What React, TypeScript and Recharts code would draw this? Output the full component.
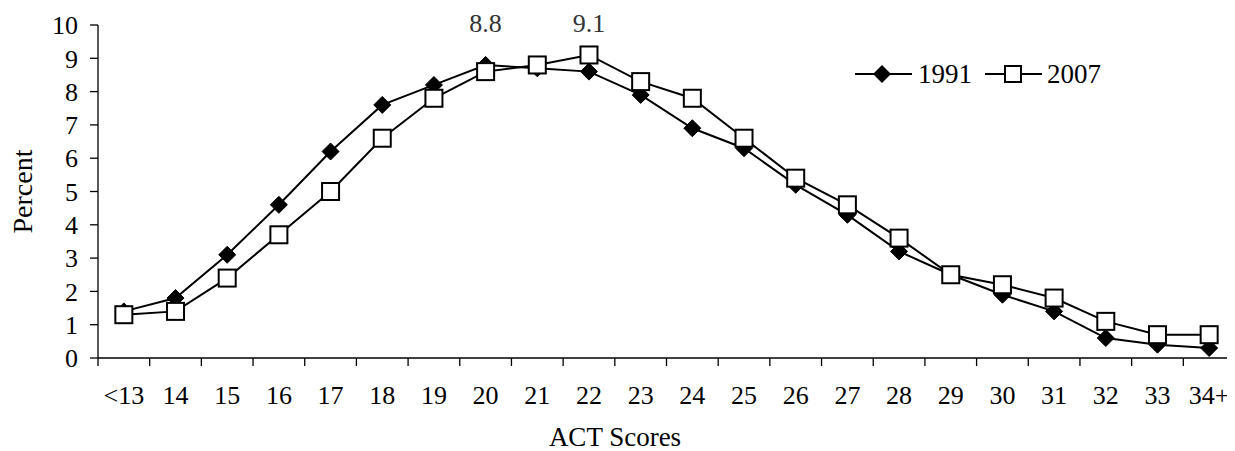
import React from 'react';
import { LineChart, Line, XAxis, YAxis, ReferenceDot, Legend, Label } from 'recharts';

const categories = ['<13', '14', '15', '16', '17', '18', '19', '20', '21', '22', '23', '24', '25', '26', '27', '28', '29', '30', '31', '32', '33', '34+'];
const values1991 = [1.4, 1.8, 3.1, 4.6, 6.2, 7.6, 8.2, 8.8, 8.7, 8.6, 7.9, 6.9, 6.3, 5.2, 4.3, 3.2, 2.5, 1.9, 1.4, 0.6, 0.4, 0.3];
const values2007 = [1.3, 1.4, 2.4, 3.7, 5.0, 6.6, 7.8, 8.6, 8.8, 9.1, 8.3, 7.8, 6.6, 5.4, 4.6, 3.6, 2.5, 2.2, 1.8, 1.1, 0.7, 0.7];
const yTicks = [0, 1, 2, 3, 4, 5, 6, 7, 8, 9, 10];
const annotations = [
  { category: '20', text: '8.8' },
  { category: '22', text: '9.1' },
];
const seriesNames = ['1991', '2007'];

const FONT = '"Liberation Serif", "Times New Roman", serif';
const TICK_FS = 26;

const data = categories.map((c, i) => ({
  pos: i + 0.5,
  cat: c,
  v1991: values1991[i],
  v2007: values2007[i],
}));

const xTicks: number[] = [];
for (let k = 0; k <= categories.length * 2; k++) xTicks.push(k / 2);

const XTick = (props: any) => {
  const { x, y, payload } = props;
  const v = payload.value;
  if (Number.isInteger(v)) {
    return <line x1={x} x2={x} y1={y} y2={y + 8} stroke="#000" strokeWidth={1.3} />;
  }
  const label = categories[Math.floor(v)];
  return (
    <text x={x} y={y + 46} textAnchor="middle" fontSize={TICK_FS} fontFamily={FONT} fill="#000">
      {label}
    </text>
  );
};

const Diamond = (props: any) => {
  const { cx, cy } = props;
  if (cx == null || cy == null) return null;
  const r = 8.5;
  return (
    <polygon
      points={`${cx},${cy - r} ${cx + r},${cy} ${cx},${cy + r} ${cx - r},${cy}`}
      fill="#000"
      stroke="#000"
      strokeWidth={1}
    />
  );
};

const Square = (props: any) => {
  const { cx, cy } = props;
  if (cx == null || cy == null) return null;
  const h = 8.5;
  return <rect x={cx - h} y={cy - h} width={2 * h} height={2 * h} fill="#fff" stroke="#000" strokeWidth={2} />;
};

const renderLegend = () => (
  <svg width={270} height={30} style={{ display: 'block' }}>
    <line x1={2} x2={59} y1={15} y2={15} stroke="#000" strokeWidth={2} />
    <polygon points="29,6 38,15 29,24 20,15" fill="#000" />
    <text x={65} y={24} fontSize={27} fontFamily={FONT} fill="#000">{seriesNames[0]}</text>
    <line x1={132} x2={189} y1={15} y2={15} stroke="#000" strokeWidth={2} />
    <rect x={152} y={7} width={16} height={16} fill="#fff" stroke="#000" strokeWidth={2} />
    <text x={194} y={24} fontSize={27} fontFamily={FONT} fill="#000">{seriesNames[1]}</text>
  </svg>
);

const PercentLabel = (props: any) => {
  const vb = props.viewBox || {};
  const cx = 14;
  const cy = (vb.y ?? 0) + (vb.height ?? 0) / 2;
  return (
    <text x={cx} y={cy} transform={`rotate(-90 ${cx} ${cy})`} textAnchor="middle" dominantBaseline="central" fontSize={28} fontFamily={FONT} fill="#000">
      Percent
    </text>
  );
};

const ActLabel = (props: any) => {
  const vb = props.viewBox || {};
  const x = 607;
  const y = (vb.y ?? 0) + 88;
  return (
    <text x={x} y={y} textAnchor="middle" fontSize={27} fontFamily={FONT} fill="#000">
      ACT Scores
    </text>
  );
};

export default function App() {
  return (
    <div style={{ width: 1227, height: 443, overflow: 'hidden', position: 'relative', background: '#fff' }}>
      <LineChart width={1227} height={443} data={data} margin={{ top: 17, right: 0, left: 0, bottom: 0 }}>
        <XAxis
          dataKey="pos"
          type="number"
          domain={[0, categories.length]}
          ticks={xTicks}
          interval={0}
          tickSize={0}
          tickMargin={0}
          tickLine={false}
          tick={<XTick />}
          height={93}
          axisLine={{ stroke: '#000', strokeWidth: 1.3 }}
          allowDecimals
        >
          <Label content={<ActLabel />} />
        </XAxis>
        <YAxis
          type="number"
          domain={[0, 10]}
          ticks={yTicks}
          interval={0}
          width={90}
          tickSize={8}
          tickMargin={12}
          tickLine={{ stroke: '#000', strokeWidth: 1.3 }}
          axisLine={{ stroke: '#000', strokeWidth: 1.3 }}
          tick={{ fontSize: TICK_FS, fontFamily: FONT, fill: '#000' }}
        >
          <Label content={<PercentLabel />} />
        </YAxis>
        <Legend
          layout="vertical"
          verticalAlign="middle"
          align="center"
          content={renderLegend}
          wrapperStyle={{ position: 'absolute', left: 845, top: 51, width: 270, height: 30 }}
        />
        <Line
          dataKey="v1991"
          name={seriesNames[0]}
          stroke="#000"
          strokeWidth={2}
          dot={<Diamond />}
          activeDot={false}
          isAnimationActive={false}
        />
        <Line
          dataKey="v2007"
          name={seriesNames[1]}
          stroke="#000"
          strokeWidth={2}
          dot={<Square />}
          activeDot={false}
          isAnimationActive={false}
        />
        {annotations.map((a) => (
          <ReferenceDot
            key={a.category}
            x={categories.indexOf(a.category) + 0.5}
            y={10}
            r={0}
            fill="none"
            stroke="none"
            label={{ value: a.text, position: 'center', fontSize: TICK_FS, fontFamily: FONT, fill: '#333', dy: -2 }}
          />
        ))}
      </LineChart>
    </div>
  );
}
